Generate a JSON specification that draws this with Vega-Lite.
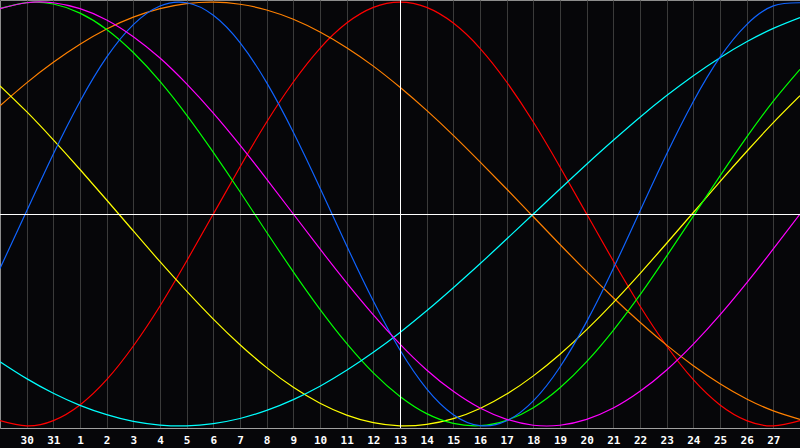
{
  "$schema": "https://vega.github.io/schema/vega-lite/v6.json",
  "width": 800,
  "height": 428,
  "autosize": "none",
  "padding": {"left": 0, "top": 0, "right": 0, "bottom": 20},
  "background": "#060609",
  "config": {"view": {"stroke": "#8c8c8c", "fill": "#060609"}},
  "datasets": {
    "curves": [
      {"s":"r","k":0,"v":-0.975},{"s":"r","k":1,"v":-1},{"s":"r","k":2,"v":-0.975},{"s":"r","k":3,"v":-0.901},{"s":"r","k":4,"v":-0.782},{"s":"r","k":5,"v":-0.623},{"s":"r","k":6,"v":-0.434},{"s":"r","k":7,"v":-0.222},{"s":"r","k":8,"v":0},{"s":"r","k":9,"v":0.222},{"s":"r","k":10,"v":0.434},{"s":"r","k":11,"v":0.623},{"s":"r","k":12,"v":0.782},{"s":"r","k":13,"v":0.901},{"s":"r","k":14,"v":0.975},{"s":"r","k":15,"v":1},{"s":"r","k":16,"v":0.975},{"s":"r","k":17,"v":0.901},{"s":"r","k":18,"v":0.782},{"s":"r","k":19,"v":0.623},{"s":"r","k":20,"v":0.434},{"s":"r","k":21,"v":0.222},{"s":"r","k":22,"v":0},{"s":"r","k":23,"v":-0.222},{"s":"r","k":24,"v":-0.434},{"s":"r","k":25,"v":-0.623},{"s":"r","k":26,"v":-0.782},{"s":"r","k":27,"v":-0.901},{"s":"r","k":28,"v":-0.975},{"s":"r","k":29,"v":-1},{"s":"r","k":30,"v":-0.975},
      {"s":"o","k":0,"v":0.511},{"s":"o","k":1,"v":0.619},{"s":"o","k":2,"v":0.716},{"s":"o","k":3,"v":0.801},{"s":"o","k":4,"v":0.873},{"s":"o","k":5,"v":0.929},{"s":"o","k":6,"v":0.969},{"s":"o","k":7,"v":0.993},{"s":"o","k":8,"v":1},{"s":"o","k":9,"v":0.99},{"s":"o","k":10,"v":0.963},{"s":"o","k":11,"v":0.919},{"s":"o","k":12,"v":0.859},{"s":"o","k":13,"v":0.785},{"s":"o","k":14,"v":0.698},{"s":"o","k":15,"v":0.598},{"s":"o","k":16,"v":0.489},{"s":"o","k":17,"v":0.371},{"s":"o","k":18,"v":0.246},{"s":"o","k":19,"v":0.118},{"s":"o","k":20,"v":-0.013},{"s":"o","k":21,"v":-0.144},{"s":"o","k":22,"v":-0.272},{"s":"o","k":23,"v":-0.395},{"s":"o","k":24,"v":-0.511},{"s":"o","k":25,"v":-0.619},{"s":"o","k":26,"v":-0.716},{"s":"o","k":27,"v":-0.801},{"s":"o","k":28,"v":-0.873},{"s":"o","k":29,"v":-0.929},{"s":"o","k":30,"v":-0.969},
      {"s":"y","k":0,"v":0.605},{"s":"y","k":1,"v":0.483},{"s":"y","k":2,"v":0.35},{"s":"y","k":3,"v":0.21},{"s":"y","k":4,"v":0.066},{"s":"y","k":5,"v":-0.08},{"s":"y","k":6,"v":-0.225},{"s":"y","k":7,"v":-0.364},{"s":"y","k":8,"v":-0.496},{"s":"y","k":9,"v":-0.617},{"s":"y","k":10,"v":-0.725},{"s":"y","k":11,"v":-0.818},{"s":"y","k":12,"v":-0.893},{"s":"y","k":13,"v":-0.949},{"s":"y","k":14,"v":-0.985},{"s":"y","k":15,"v":-1},{"s":"y","k":16,"v":-0.993},{"s":"y","k":17,"v":-0.966},{"s":"y","k":18,"v":-0.918},{"s":"y","k":19,"v":-0.85},{"s":"y","k":20,"v":-0.764},{"s":"y","k":21,"v":-0.662},{"s":"y","k":22,"v":-0.546},{"s":"y","k":23,"v":-0.418},{"s":"y","k":24,"v":-0.281},{"s":"y","k":25,"v":-0.138},{"s":"y","k":26,"v":0.007},{"s":"y","k":27,"v":0.153},{"s":"y","k":28,"v":0.295},{"s":"y","k":29,"v":0.431},{"s":"y","k":30,"v":0.558},
      {"s":"g","k":0,"v":0.97},{"s":"g","k":1,"v":0.998},{"s":"g","k":2,"v":0.991},{"s":"g","k":3,"v":0.948},{"s":"g","k":4,"v":0.871},{"s":"g","k":5,"v":0.762},{"s":"g","k":6,"v":0.626},{"s":"g","k":7,"v":0.467},{"s":"g","k":8,"v":0.291},{"s":"g","k":9,"v":0.105},{"s":"g","k":10,"v":-0.086},{"s":"g","k":11,"v":-0.273},{"s":"g","k":12,"v":-0.45},{"s":"g","k":13,"v":-0.611},{"s":"g","k":14,"v":-0.75},{"s":"g","k":15,"v":-0.861},{"s":"g","k":16,"v":-0.942},{"s":"g","k":17,"v":-0.988},{"s":"g","k":18,"v":-0.999},{"s":"g","k":19,"v":-0.974},{"s":"g","k":20,"v":-0.914},{"s":"g","k":21,"v":-0.82},{"s":"g","k":22,"v":-0.697},{"s":"g","k":23,"v":-0.549},{"s":"g","k":24,"v":-0.382},{"s":"g","k":25,"v":-0.199},{"s":"g","k":26,"v":-0.01},{"s":"g","k":27,"v":0.18},{"s":"g","k":28,"v":0.363},{"s":"g","k":29,"v":0.533},{"s":"g","k":30,"v":0.683},
      {"s":"c","k":0,"v":-0.697},{"s":"c","k":1,"v":-0.777},{"s":"c","k":2,"v":-0.846},{"s":"c","k":3,"v":-0.903},{"s":"c","k":4,"v":-0.947},{"s":"c","k":5,"v":-0.979},{"s":"c","k":6,"v":-0.996},{"s":"c","k":7,"v":-1},{"s":"c","k":8,"v":-0.989},{"s":"c","k":9,"v":-0.965},{"s":"c","k":10,"v":-0.927},{"s":"c","k":11,"v":-0.876},{"s":"c","k":12,"v":-0.813},{"s":"c","k":13,"v":-0.738},{"s":"c","k":14,"v":-0.653},{"s":"c","k":15,"v":-0.559},{"s":"c","k":16,"v":-0.457},{"s":"c","k":17,"v":-0.348},{"s":"c","k":18,"v":-0.235},{"s":"c","k":19,"v":-0.118},{"s":"c","k":20,"v":0},{"s":"c","k":21,"v":0.118},{"s":"c","k":22,"v":0.235},{"s":"c","k":23,"v":0.348},{"s":"c","k":24,"v":0.457},{"s":"c","k":25,"v":0.559},{"s":"c","k":26,"v":0.653},{"s":"c","k":27,"v":0.738},{"s":"c","k":28,"v":0.813},{"s":"c","k":29,"v":0.876},{"s":"c","k":30,"v":0.927},
      {"s":"b","k":0,"v":-0.257},{"s":"b","k":1,"v":0.014},{"s":"b","k":2,"v":0.283},{"s":"b","k":3,"v":0.531},{"s":"b","k":4,"v":0.74},{"s":"b","k":5,"v":0.894},{"s":"b","k":6,"v":0.982},{"s":"b","k":7,"v":0.997},{"s":"b","k":8,"v":0.938},{"s":"b","k":9,"v":0.809},{"s":"b","k":10,"v":0.62},{"s":"b","k":11,"v":0.386},{"s":"b","k":12,"v":0.123},{"s":"b","k":13,"v":-0.15},{"s":"b","k":14,"v":-0.411},{"s":"b","k":15,"v":-0.642},{"s":"b","k":16,"v":-0.825},{"s":"b","k":17,"v":-0.947},{"s":"b","k":18,"v":-0.999},{"s":"b","k":19,"v":-0.976},{"s":"b","k":20,"v":-0.882},{"s":"b","k":21,"v":-0.722},{"s":"b","k":22,"v":-0.508},{"s":"b","k":23,"v":-0.257},{"s":"b","k":24,"v":0.014},{"s":"b","k":25,"v":0.283},{"s":"b","k":26,"v":0.531},{"s":"b","k":27,"v":0.74},{"s":"b","k":28,"v":0.894},{"s":"b","k":29,"v":0.982},{"s":"b","k":30,"v":0.997},
      {"s":"m","k":0,"v":0.969},{"s":"m","k":1,"v":0.997},{"s":"m","k":2,"v":0.997},{"s":"m","k":3,"v":0.969},{"s":"m","k":4,"v":0.916},{"s":"m","k":5,"v":0.837},{"s":"m","k":6,"v":0.736},{"s":"m","k":7,"v":0.614},{"s":"m","k":8,"v":0.476},{"s":"m","k":9,"v":0.325},{"s":"m","k":10,"v":0.165},{"s":"m","k":11,"v":0},{"s":"m","k":12,"v":-0.165},{"s":"m","k":13,"v":-0.325},{"s":"m","k":14,"v":-0.476},{"s":"m","k":15,"v":-0.614},{"s":"m","k":16,"v":-0.736},{"s":"m","k":17,"v":-0.837},{"s":"m","k":18,"v":-0.916},{"s":"m","k":19,"v":-0.969},{"s":"m","k":20,"v":-0.997},{"s":"m","k":21,"v":-0.997},{"s":"m","k":22,"v":-0.969},{"s":"m","k":23,"v":-0.916},{"s":"m","k":24,"v":-0.837},{"s":"m","k":25,"v":-0.736},{"s":"m","k":26,"v":-0.614},{"s":"m","k":27,"v":-0.476},{"s":"m","k":28,"v":-0.325},{"s":"m","k":29,"v":-0.165},{"s":"m","k":30,"v":0}
    ],
    "refs": [{"k": 15, "v": 0}]
  },
  "layer": [
    {
      "data": {"name": "curves"},
      "mark": {"type": "line", "strokeWidth": 1.2, "interpolate": "natural", "clip": true},
      "encoding": {
        "x": {
          "field": "k", "type": "quantitative",
          "scale": {"domain": [0, 30], "nice": false, "zero": false},
          "axis": {
            "title": null,
            "values": [1,2,3,4,5,6,7,8,9,10,11,12,13,14,15,16,17,18,19,20,21,22,23,24,25,26,27,28,29],
            "tickCount": 40,
            "labelExpr": "datum.value == 1 ? '30' : datum.value == 2 ? '31' : '' + (datum.value - 2)",
            "grid": true, "gridColor": "#3a3a3a", "gridWidth": 1,
            "ticks": false, "domainColor": "#a0a0a0", "domainWidth": 1,
            "labelColor": "#ffffff", "labelFont": "DejaVu Sans Mono", "labelFontWeight": "bold",
            "labelFontSize": 11, "labelPadding": 6, "labelFlush": false, "labelOverlap": false,
            "labelBound": false
          }
        },
        "y": {
          "field": "v", "type": "quantitative",
          "scale": {"domain": [-1.01, 1.01], "nice": false, "zero": false},
          "axis": null
        },
        "color": {
          "field": "s", "type": "nominal",
          "scale": {"domain": ["r","o","y","g","c","b","m"], "range": ["#ff0000","#ff8000","#ffff00","#00ff00","#00ffff","#1064ff","#ff00ff"]},
          "legend": null
        }
      }
    },
    {
      "data": {"name": "refs"},
      "mark": {"type": "rule", "color": "#ffffff", "strokeWidth": 1, "xOffset": 0.5},
      "encoding": {"x": {"field": "k", "type": "quantitative"}}
    },
    {
      "data": {"name": "refs"},
      "mark": {"type": "rule", "color": "#ffffff", "strokeWidth": 1, "yOffset": 0.5},
      "encoding": {"y": {"field": "v", "type": "quantitative"}}
    }
  ]
}
